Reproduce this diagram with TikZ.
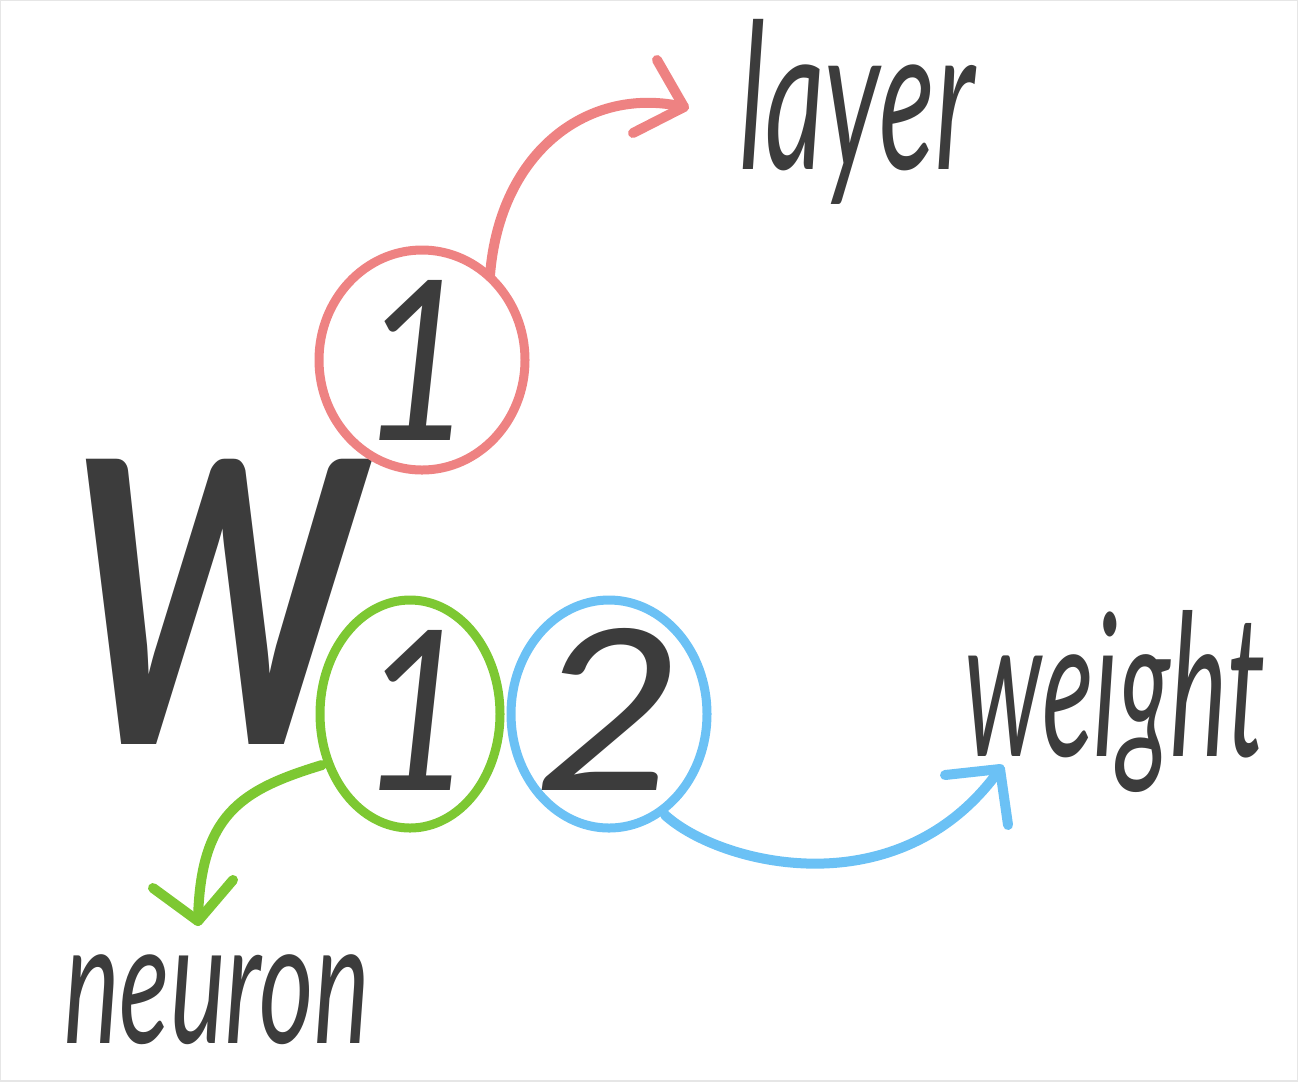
\documentclass[tikz,border=0pt]{standalone}
\usepackage{fontspec}
\setmainfont{Lato}
\usepackage{graphicx}
\definecolor{ink}{HTML}{3C3C3C}
\definecolor{redc}{HTML}{EE8282}
\definecolor{greenc}{HTML}{7DC832}
\definecolor{bluec}{HTML}{6BC1F5}
\definecolor{frame}{HTML}{E6E6E6}
\begin{document}
\begin{tikzpicture}[x=0.01cm,y=-0.01cm,
  ring/.style={draw=#1,line width=0.09cm},
  link/.style={draw=#1,line width=0.1cm,line cap=round,line join=round},
  word/.style={inner sep=0pt,text=ink,font=\itshape},
  digit/.style={inner sep=0pt,text=ink,font=\itshape},
  big/.style={inner sep=0pt,text=ink,font=\bfseries\itshape}]
\useasboundingbox (0,0) rectangle (1298,1081);
\draw[frame,line width=0.02cm] (0,0) rectangle (1298,1081);
% main letter
\node[big] (W) at (215,602) {\resizebox*{2.9cm}{2.85cm}{W}};
% rings
\draw[ring=redc] (422,360) ellipse [x radius=103, y radius=110];
\draw[ring=greenc] (410,714) ellipse [x radius=90, y radius=114];
\draw[ring=bluec] (609,714) ellipse [x radius=98, y radius=114];
\node[digit] (n1) at (417,360) {\resizebox*{1.15cm}{1.6cm}{1}};
\node[digit] (n2) at (417,710) {\resizebox*{1.15cm}{1.6cm}{1}};
\node[digit] (n3) at (610,709) {\resizebox*{1.5cm}{1.62cm}{2}};
% labels
\node[word] (layer) at (857,112) {\resizebox*{2.35cm}{1.85cm}{layer}};
\node[word] (weight) at (1115,701) {\resizebox*{3.0cm}{1.82cm}{weight}};
\node[word] (neuron) at (217,1000) {\resizebox*{3.05cm}{0.9cm}{neuron}};
% anchors of connectors
\coordinate (rs) at (490,275);
\coordinate (rt) at (684,107);
\coordinate (gs) at (322,765);
\coordinate (gt) at (198,921);
\coordinate (bs) at (665,815);
\coordinate (bt) at (1000,769);
% red connector
\draw[link=redc] (rs) .. controls (500,150) and (590,85) .. (rt);
\draw[link=redc] (657,60) -- (rt) -- (633,133);
% green connector
\draw[link=greenc] (gs) .. controls (240,790) and (200,815) .. (gt);
\draw[link=greenc] (153,888) -- (gt) -- (233,880);
% blue connector
\draw[link=bluec] (bs) .. controls (720,865) and (900,910) .. (bt);
\draw[link=bluec] (945,775) -- (bt) -- (1008,825);
\end{tikzpicture}
\end{document}
